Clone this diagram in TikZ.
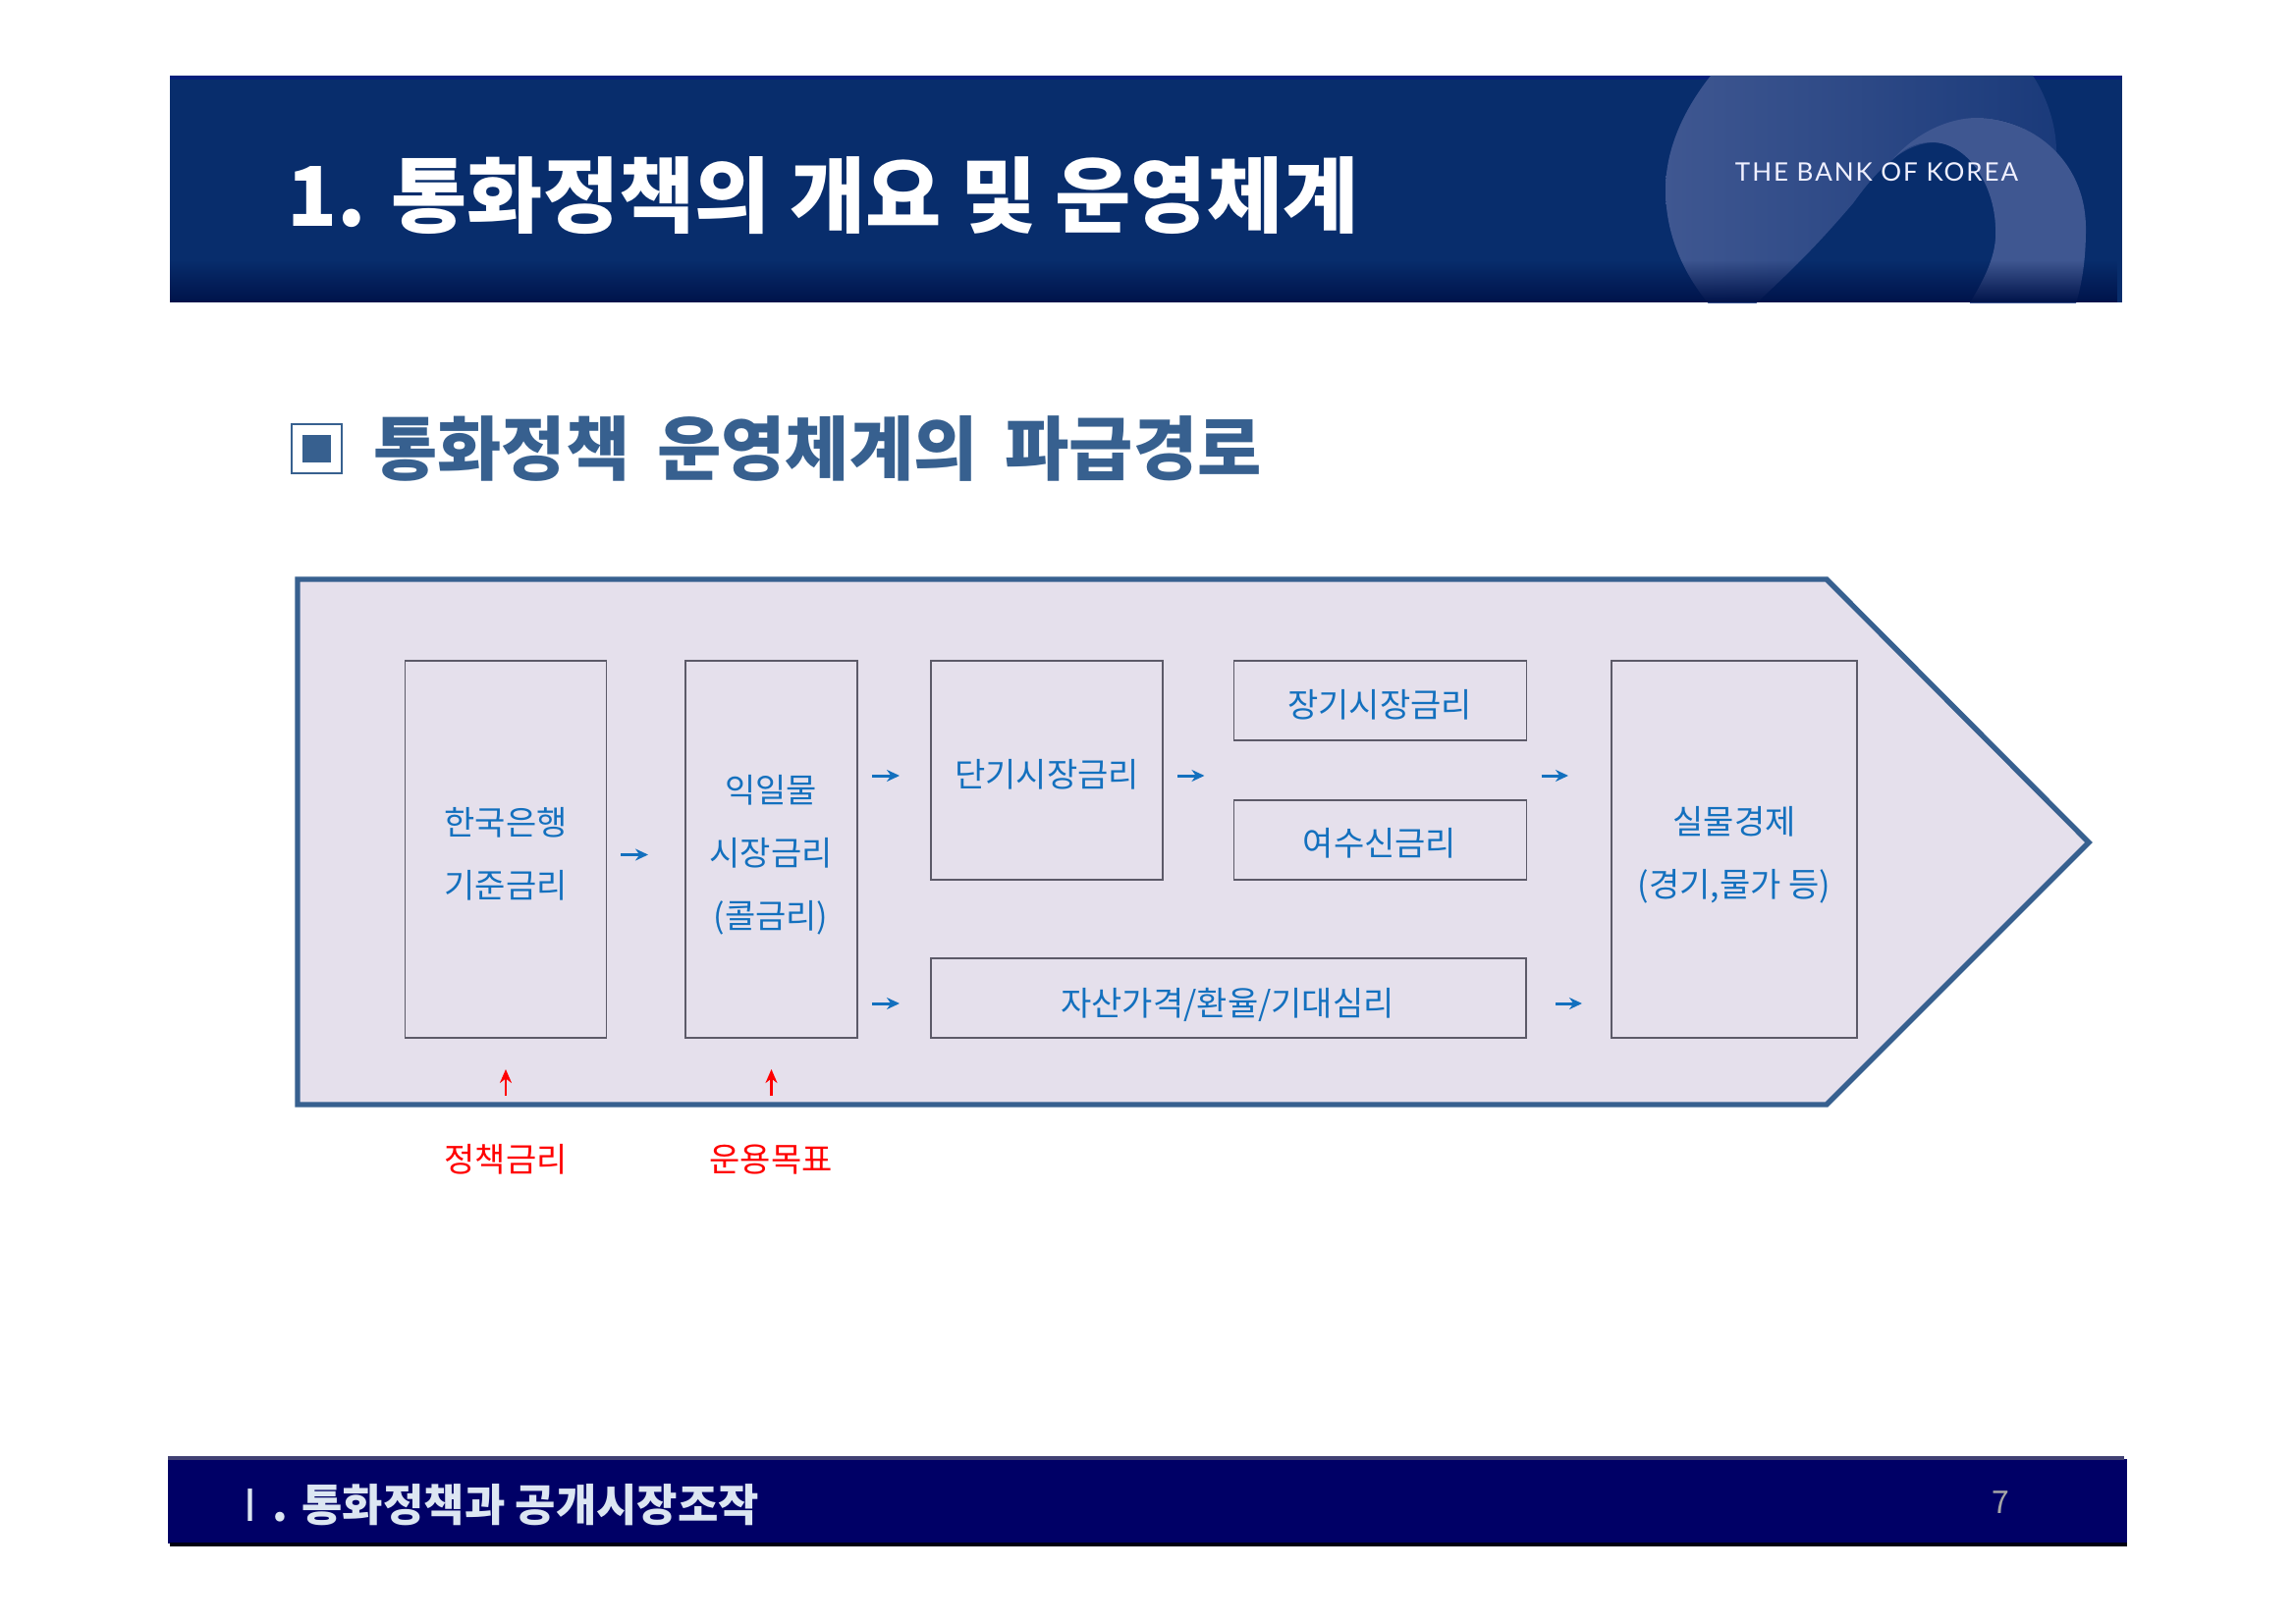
\documentclass[tikz,border=0pt]{standalone}
\usepackage{fontspec}
\setmainfont{Noto Sans CJK KR}
\newfontfamily\cjkwide[NFSSFamily=cjkw,WordSpace=1.7]{Noto Sans CJK KR}
\newfontfamily\logofont[LetterSpace=7.5]{Lato}
\usetikzlibrary{arrows.meta,fadings}
\definecolor{hdr}{HTML}{082D6C}
\definecolor{hdrdark}{HTML}{00134A}
\definecolor{steel}{HTML}{37608F}
\definecolor{swirl}{HTML}{3F5791}
\definecolor{swirlb}{HTML}{1A3A7A}
\definecolor{panel}{HTML}{E5E0EC}
\definecolor{inkblue}{HTML}{1370BE}
\definecolor{frame}{HTML}{5C5A68}
\definecolor{foot}{HTML}{000066}
\definecolor{foottext}{HTML}{DCE6F2}
\tikzfading[name=fadedown, top color=transparent!100, bottom color=transparent!0]
\tikzset{
  x=0.5pt,y=-0.5pt,
  boxn/.style={draw=frame,line width=0.55pt,fill=none,inner sep=0pt,outer sep=0pt},
  lbl/.style={text=inkblue,font=\rmfamily\fontsize{17}{32}\selectfont,align=center,inner sep=0pt},
  redlbl/.style={text=red,font=\rmfamily\fontsize{17}{32}\selectfont,inner sep=0pt},
  flow/.style={draw=inkblue,line width=1.5pt,-{Stealth[length=6.5pt,width=6pt]}},
  up/.style={draw=red,line width=1.3pt,-{Stealth[length=7pt,width=6pt]}},
  trim/.style 2 args={shorten <=#1*0.5pt,shorten >=#2*0.5pt},
}
\begin{document}
\begin{tikzpicture}
\useasboundingbox (0,0) rectangle (2337,1653);
\fill[white] (0,0) rectangle (2337,1653);
% header
\fill[hdr] (173,77) rectangle (2161,308);
\fill[fill=hdr!80!blue!90!black] (173,77) rectangle (2161,81);
\begin{scope}
\clip (173,77) rectangle (2161,308);
\shade[left color=swirl,right color=swirlb]
  (1742,77) .. controls (1708,120) and (1696,160) .. (1696,193)
  .. controls (1696,240) and (1715,280) .. (1742,312)
  -- (1785,312) .. controls (1830,270) and (1850,250) .. (1887,207)
  .. controls (1910,175) and (1935,148) .. (1967,145)
  .. controls (1975,130) and (1995,122) .. (2013,120)
  .. controls (2050,120) and (2075,135) .. (2094,160)
  .. controls (2095,130) and (2085,100) .. (2070,77) -- cycle;
\fill[swirl]
  (1925,165) .. controls (1950,135) and (1985,120) .. (2013,120)
  .. controls (2065,120) and (2124,160) .. (2124,233)
  .. controls (2124,265) and (2120,290) .. (2113,312)
  -- (2004,312) .. controls (2020,285) and (2034,260) .. (2032,232)
  .. controls (2031,190) and (2005,145) .. (1967,145)
  .. controls (1950,145) and (1937,152) .. (1925,165) -- cycle;
\fill[hdrdark,path fading=fadedown] (173,265) rectangle (2161,308);
\end{scope}
\node[inner sep=0pt,text=white,font=\rmfamily\bfseries\fontsize{42}{43}\selectfont] (title) at (838,199) {1. 통화정책의 개요 및 운영체계};
\node[inner sep=0pt,text=white!94!blue,font=\logofont\fontsize{13}{14}\selectfont] (logo) at (1911,175) {THE BANK OF KOREA};
% heading
\node[draw=steel,line width=1pt,minimum width=25.5pt,minimum height=25pt,inner sep=0pt] (bullet) at (322.5,457) {};
\fill[steel] (308,443) rectangle (337,471);
\node[inner sep=0pt,text=steel,font=\cjkwide\bfseries\fontsize{35.5}{36}\selectfont] (head) at (832.5,457) {통화정책 운영체계의 파급경로};
% panel
\draw[draw=steel,fill=panel,line width=2.7pt,miter limit=10] (303,590) -- (1860,590) -- (2127,858) -- (1860,1125) -- (303,1125) -- cycle;
% boxes
\node[boxn,minimum width=102.2pt,minimum height=192pt] (b1) at (515,865) {};
\node[boxn,minimum width=87.5pt,minimum height=192pt] (b2) at (785.5,865) {};
\node[boxn,minimum width=118pt,minimum height=111.5pt] (b3) at (1066,784.5) {};
\node[boxn,minimum width=149pt,minimum height=40.5pt] (b4) at (1405.5,713.5) {};
\node[boxn,minimum width=149pt,minimum height=40.5pt] (b5) at (1405.5,855.5) {};
\node[boxn,minimum width=303pt,minimum height=40.5pt] (b6) at (1251,1016.5) {};
\node[boxn,minimum width=125pt,minimum height=192pt] (b7) at (1766,865) {};
% labels
\node[lbl] (t1) at (515,870) {한국은행\\기준금리};
\node[lbl] (t2) at (785,871) {익일물\\시장금리\\(콜금리)};
\node[lbl] (t3) at (1066,789) {단기시장금리};
\node[lbl] (t4) at (1405,718) {장기시장금리};
\node[lbl] (t5) at (1405,859) {여수신금리};
\node[lbl] (t6) at (1250,1023) {자산가격/환율/기대심리};
\node[lbl] (t7) at (1766,871) {실물경제\\(경기,물가 등)};
\node[redlbl] (r1) at (515,1181) {정책금리};
\node[redlbl] (r2) at (785,1181) {운용목표};
% rows for the arrows
\coordinate (rowa) at (0,790);
\coordinate (rowb) at (0,1022);
\coordinate (rowc) at (0,870.5);
\coordinate (tail1) at (515,1116);
\coordinate (tail2) at (785.5,1116);
\draw[flow,trim={15}{38}] (b1.east |- rowc) -- (b2.west |- rowc);
\draw[flow,trim={15}{32}] (b2.east |- rowa) -- (b3.west |- rowa);
\draw[flow,trim={15}{32}] (b2.east |- rowb) -- (b6.west |- rowb);
\draw[flow,trim={15}{30}] (b3.east |- rowa) -- (b4.west |- rowa);
\draw[flow,trim={15}{44}] (b4.east |- rowa) -- (b7.west |- rowa);
\draw[flow,trim={30}{30}] (b6.east |- rowb) -- (b7.west |- rowb);
\draw[up,trim={0}{32}] (tail1) -- (b1.south);
\draw[up,trim={0}{32}] (tail2) -- (b2.south);
% footer
\fill[foot] (171,1486) rectangle (2166,1572);
\fill[foot!50!gray] (171,1483) rectangle (2163,1487);
\fill[black!80!foot] (173,1571) rectangle (2166,1575);
\node[inner sep=0pt,text=foottext,font=\rmfamily\bfseries\fontsize{22.5}{23}\selectfont] (foott) at (503,1533) {{\mdseries Ⅰ}. 통화정책과 공개시장조작};
\node[inner sep=0pt,text=black!35,font=\rmfamily\fontsize{16}{17}\selectfont] (page) at (2037,1530) {7};
\end{tikzpicture}
\end{document}
